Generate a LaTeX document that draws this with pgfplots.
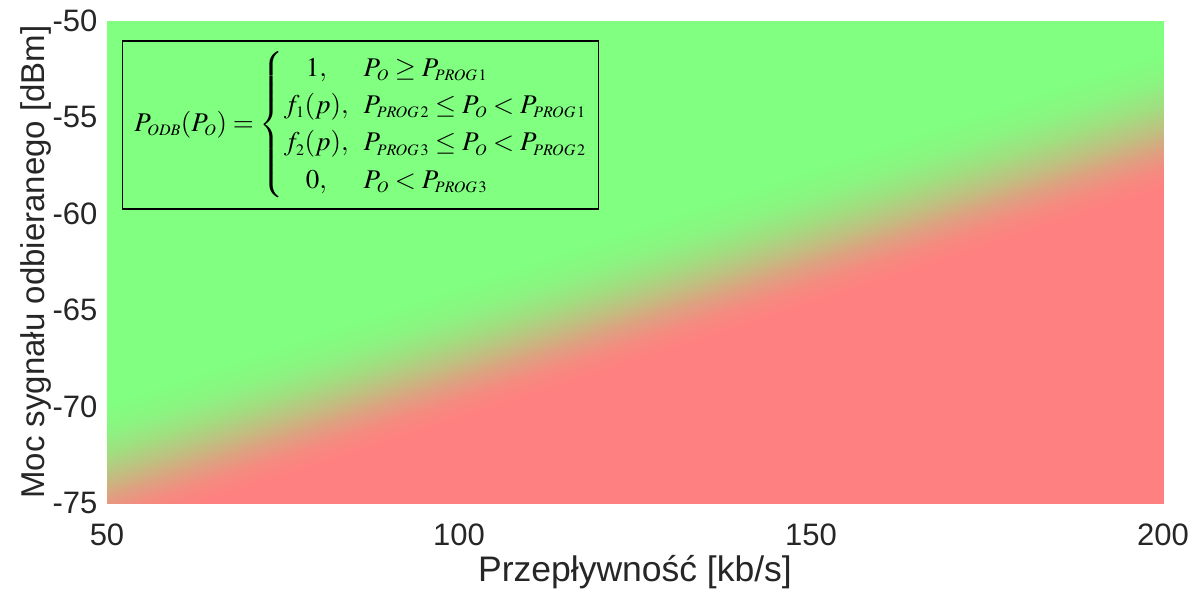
\documentclass[border=0pt]{standalone}
\usepackage{mathptmx}
\usepackage[no-math]{fontspec}
\setmainfont{Liberation Sans}
\usepackage{pgfplots}
\pgfplotsset{compat=1.18}
\DeclareMathSizes{27}{27}{16}{12}
\begin{document}
\begin{tikzpicture}
\begin{axis}[
  name=ax,
  scale only axis, width=1056pt, height=482pt,
  xmin=50, xmax=200, ymin=-75, ymax=-50, zmin=-1, zmax=1,
  view={0}{90},
  axis line style={draw=none},
  tick style={draw=none},
  xtick={50,100,150,200}, xticklabels={50,100,150,200},
  ytick={-75,-70,-65,-60,-55,-50}, yticklabels={-75,-70,-65,-60,-55,-50},
  ztick=\empty,
  ticklabel style={font=\fontsize{31}{31}\selectfont, text=black!85},
  xticklabel style={yshift=-17pt},
  yticklabel style={xshift=-6pt},
  xlabel={Przepływność [kb/s]},
  ylabel={Moc sygnału odbieranego [dBm]},
  every axis x label/.style={at={(axis description cs:0.5,0)}, anchor=north, yshift=-49pt,
     font=\fontsize{35.5}{35.5}\selectfont, text=black!85},
  every axis y label/.style={at={(axis description cs:0,0.5)}, rotate=90, anchor=south, yshift=52pt,
     font=\fontsize{33}{33}\selectfont, text=black!85},
  colormap={rg}{rgb255=(255,128,128) rgb255=(128,255,128)},
  point meta min=0, point meta max=1,
]
\addplot3[surf, shader=interp, mesh/rows=9, mesh/cols=2, point meta=\thisrow{c}]
  table[x=x, y=y, z=z, row sep=\\] {
  x y z c \\
  50 -80 0 0 \\ 200 -80 0 0 \\
  50 -76.6 0 0 \\ 200 -58.7 0 0 \\
  50 -75.6 0 0.08 \\ 200 -57.7 0 0.08 \\
  50 -74.7 0 0.25 \\ 200 -56.7 0 0.25 \\
  50 -73.6 0 0.5 \\ 200 -55.6 0 0.5 \\
  50 -72.4 0 0.75 \\ 200 -54.3 0 0.75 \\
  50 -71.2 0 0.92 \\ 200 -53.0 0 0.92 \\
  50 -69.8 0 1 \\ 200 -51.6 0 1 \\
  50 -50 0 1 \\ 200 -50 0 1 \\
};
\node[draw, line width=1.6pt, anchor=north west, minimum width=476pt, minimum height=168pt, inner sep=0pt]
  at (axis cs:52.1,-50.99,0)
  {\fontsize{27}{33}\selectfont\renewcommand{\arraystretch}{1.13}%
   $P_{ODB}(P_O)=\left\{\begin{array}{@{}c@{\hspace{15pt}}l@{}}
   1, & P_O \ge P_{PROG\,1}\\
   f_1(p), & P_{PROG\,2}\le P_O < P_{PROG\,1}\\
   f_2(p), & P_{PROG\,3}\le P_O < P_{PROG\,2}\\
   0, & P_O < P_{PROG\,3}
   \end{array}\right.$};
\end{axis}
\pgfresetboundingbox
\path[use as bounding box] ([shift={(-107pt,-88pt)}]ax.south west) rectangle ([shift={(36pt,21pt)}]ax.north east);
\end{tikzpicture}
\end{document}
